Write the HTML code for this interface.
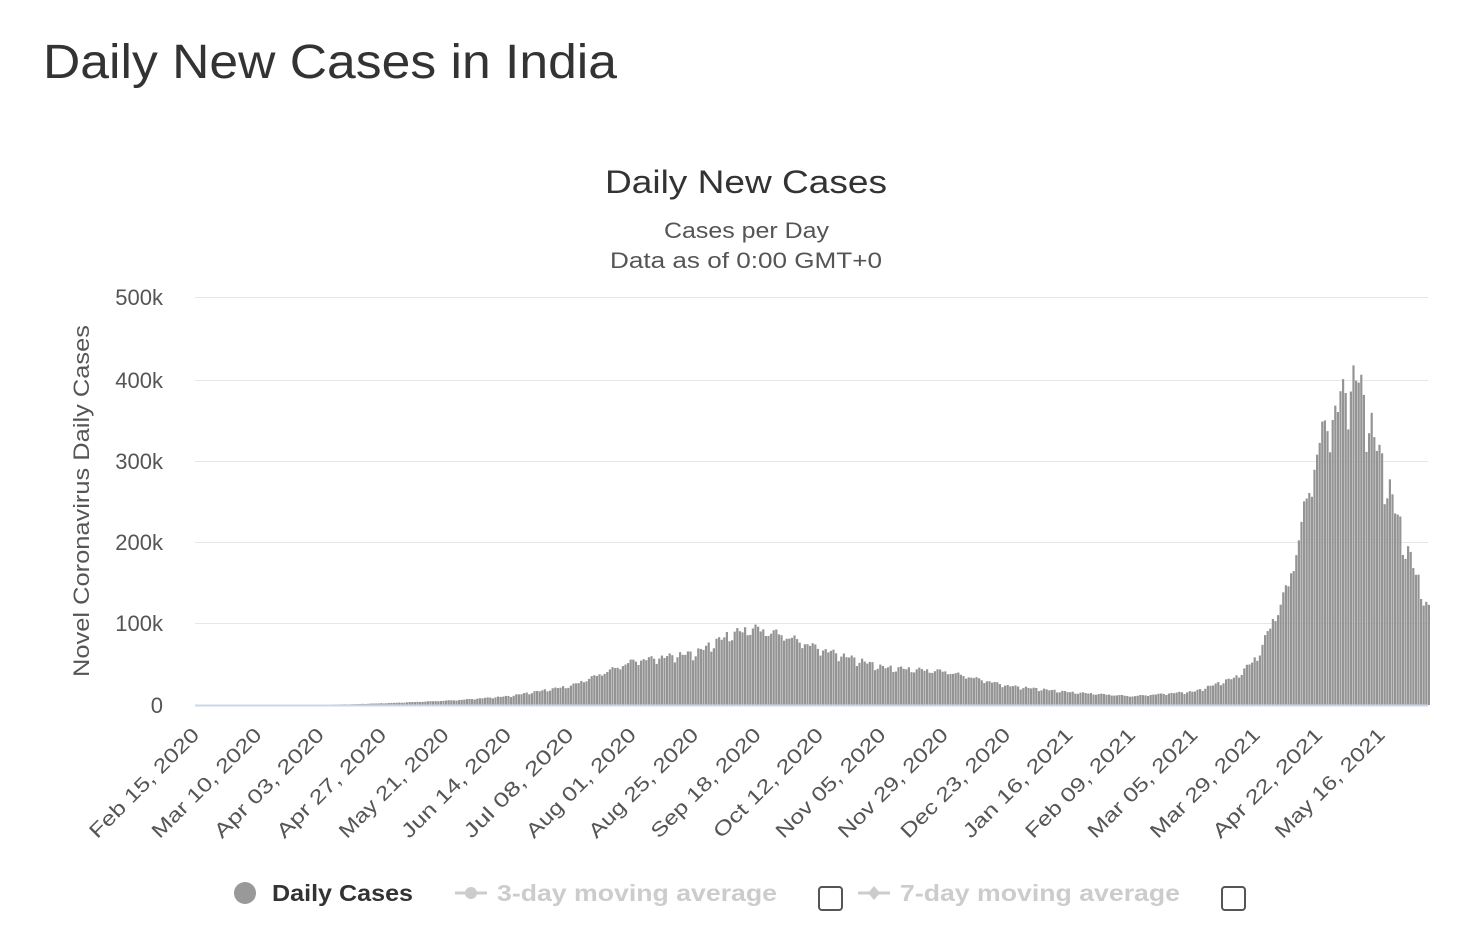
<!DOCTYPE html>
<html><head><meta charset="utf-8"><style>
body{margin:0;background:#fff;width:1474px;height:932px;overflow:hidden;font-family:"Liberation Sans","DejaVu Sans",sans-serif}
</style></head><body>
<svg id="s" width="1474" height="932" xmlns="http://www.w3.org/2000/svg" font-family="Liberation Sans, DejaVu Sans, sans-serif">
<text x="43" y="78" font-size="48" fill="#333" textLength="574" lengthAdjust="spacingAndGlyphs">Daily New Cases in India</text>
<text x="605" y="193" font-size="32" fill="#333" textLength="282" lengthAdjust="spacingAndGlyphs">Daily New Cases</text>
<text x="664" y="238" font-size="22" fill="#555" textLength="165" lengthAdjust="spacingAndGlyphs">Cases per Day</text>
<text x="610" y="268" font-size="22" fill="#555" textLength="272" lengthAdjust="spacingAndGlyphs">Data as of 0:00 GMT+0</text>
<g stroke="#e6e6e6" stroke-width="1">
<line x1="195" x2="1428" y1="297.5" y2="297.5"/><line x1="195" x2="1428" y1="380.5" y2="380.5"/>
<line x1="195" x2="1428" y1="461.5" y2="461.5"/><line x1="195" x2="1428" y1="542.5" y2="542.5"/>
<line x1="195" x2="1428" y1="623.5" y2="623.5"/>
</g>
<g font-size="22" fill="#555" text-anchor="end">
<text x="163" y="305">500k</text><text x="163" y="388">400k</text><text x="163" y="469">300k</text>
<text x="163" y="550">200k</text><text x="163" y="631">100k</text><text x="163" y="713">0</text>
</g>
<text transform="translate(89,501) rotate(-90)" font-size="22" fill="#555" text-anchor="middle" textLength="352" lengthAdjust="spacingAndGlyphs">Novel Coronavirus Daily Cases</text>
<g id="bars" fill="#949494"></g>
<line x1="195" x2="1428" y1="705.5" y2="705.5" stroke="#ccd6eb" stroke-width="2"/>
<g id="xl" font-size="20" fill="#555" text-anchor="end"></g>
<g font-size="23" font-weight="bold">
<circle cx="245" cy="893" r="11" fill="#999"/>
<text x="272" y="901" fill="#333" textLength="141" lengthAdjust="spacingAndGlyphs">Daily Cases</text>
<line x1="455" x2="487" y1="893" y2="893" stroke="#ccc" stroke-width="3"/><circle cx="471" cy="893" r="6" fill="#ccc"/>
<text x="497" y="901" fill="#ccc" textLength="280" lengthAdjust="spacingAndGlyphs">3-day moving average</text>
<rect x="819" y="887" width="23" height="23" rx="3" fill="none" stroke="#555" stroke-width="2"/>
<line x1="858" x2="890" y1="893" y2="893" stroke="#ccc" stroke-width="3"/><path d="M874 886 L880 893 L874 900 L868 893Z" fill="#ccc"/>
<text x="900" y="901" fill="#ccc" textLength="280" lengthAdjust="spacingAndGlyphs">7-day moving average</text>
<rect x="1222" y="887" width="23" height="23" rx="3" fill="none" stroke="#555" stroke-width="2"/>
</g>
</svg>
<script>
var NS="http://www.w3.org/2000/svg";
var labels=["Feb 15, 2020","Mar 10, 2020","Apr 03, 2020","Apr 27, 2020","May 21, 2020","Jun 14, 2020","Jul 08, 2020","Aug 01, 2020","Aug 25, 2020","Sep 18, 2020","Oct 12, 2020","Nov 05, 2020","Nov 29, 2020","Dec 23, 2020","Jan 16, 2021","Feb 09, 2021","Mar 05, 2021","Mar 29, 2021","Apr 22, 2021","May 16, 2021"];
var x0=196.5,dx=2.6,xl=document.getElementById("xl");
labels.forEach(function(l,i){var x=x0+i*24*dx;var t=document.createElementNS(NS,"text");
t.setAttribute("transform","translate("+(x+4)+",736) rotate(-45)");t.setAttribute("textLength","146");t.setAttribute("lengthAdjust","spacingAndGlyphs");t.textContent=l;xl.appendChild(t);});
var k=[[0,0],[40,0.1],[60,1],[75,2.5],[100,6],[120,11],[144,24],[168,55],[192,65],[205,88],[214,96],[225,88],[240,70],[264,47],[288,42],[312,24],[336,16],[360,11],[384,17],[400,35],[408,60],[420,150],[432,330],[440,380],[446,412],[456,300],[465,200],[474,118]];
function f(d){for(var i=1;i<k.length;i++){if(d<=k[i][0]){var a=k[i-1],b=k[i];return a[1]+(b[1]-a[1])*(d-a[0])/(b[0]-a[0]);}}return 118;}
var g=document.getElementById("bars");
for(var d=0;d<475;d++){var v=f(d)*1000;var w=(d%7==2)?0.88:(d%7==3?0.93:1);v*=w*(1+0.04*Math.sin(d*1.7));
var h=v/100000*81.6;if(h<0.3)continue;var r=document.createElementNS(NS,"rect");
r.setAttribute("x",(x0+d*dx-1.1).toFixed(2));r.setAttribute("width","2.2");r.setAttribute("y",(705-h).toFixed(2));r.setAttribute("height",h.toFixed(2));g.appendChild(r);}
</script>
</body></html>
